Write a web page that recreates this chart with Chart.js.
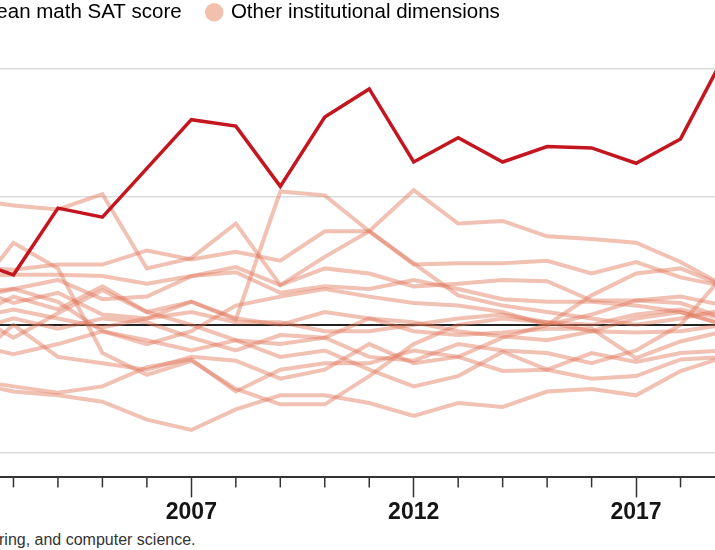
<!DOCTYPE html>
<html>
<head>
<meta charset="utf-8">
<script src="https://cdn.jsdelivr.net/npm/chart.js@4.4.1/dist/chart.umd.min.js"></script>
<style>
    html, body { margin: 0; padding: 0; background: #fff; }
    body { width: 715px; height: 550px; overflow: hidden; position: relative; }
    .chart-wrap { position: absolute; left: -70px; top: -24px; width: 796px; height: 551px; }
    .note { position: absolute; left: -1px; top: 530px; font: 16px 'Liberation Sans', Arial, sans-serif; color: #333; white-space: nowrap; line-height: 20px; }
</style>
</head>
<body>
<div class="chart-wrap"><canvas id="trendChart"></canvas></div>
<div class="note">ring, and computer science.</div>
<script>
// Years and tick labels
const years = [2002, 2003, 2004, 2005, 2006, 2007, 2008, 2009, 2010, 2011, 2012, 2013, 2014, 2015, 2016, 2017, 2018, 2019];
const majorYears = [2007, 2012, 2017];
const yTicks = [-1, 0, 1, 2];
const legendLabels = ['Mean math SAT score', 'Other institutional dimensions'];

// Mean math SAT score (highlighted series)
const satScore = [0.51, 0.39, 0.91, 0.84, 1.22, 1.60, 1.55, 1.08, 1.62, 1.84, 1.27, 1.46, 1.27, 1.39, 1.38, 1.26, 1.45, 2.11];

// Other institutional dimensions
const dim01 = [0.98, 0.93, 0.90, 1.02, 0.44, 0.52, 0.79, 0.31, 0.44, 0.40, 0.30, 0.32, 0.35, 0.34, 0.19, 0.19, 0.17, 0.05];
const dim02 = [0.05, 0.22, 0.12, 0.30, 0.10, 0.18, 0.04, 1.04, 1.01, 0.73, 0.48, 0.23, 0.15, 0.10, 0.05, 0.00, 0.05, 0.12];
const dim03 = [0.25, 0.28, 0.35, 0.20, 0.22, 0.38, 0.45, 0.31, 0.53, 0.73, 1.05, 0.79, 0.81, 0.69, 0.67, 0.64, 0.49, 0.30];
const dim04 = [0.45, 0.43, 0.47, 0.47, 0.58, 0.51, 0.57, 0.50, 0.73, 0.73, 0.47, 0.48, 0.48, 0.50, 0.40, 0.49, 0.37, 0.30];
const dim05 = [0.38, 0.39, 0.39, 0.38, 0.32, 0.38, 0.41, 0.25, 0.30, 0.28, 0.35, 0.28, 0.20, 0.18, 0.18, 0.15, 0.10, 0.00];
const dim06 = [0.20, 0.64, 0.44, -0.22, -0.39, -0.28, -0.50, -0.62, -0.62, -0.40, -0.15, 0.00, 0.05, 0.02, -0.05, 0.05, 0.10, 0.00];
const dim07 = [-0.45, -0.52, -0.55, -0.60, -0.74, -0.82, -0.66, -0.55, -0.55, -0.61, -0.71, -0.61, -0.64, -0.52, -0.50, -0.55, -0.36, -0.25];
const dim08 = [-0.43, -0.48, -0.53, -0.48, -0.33, -0.27, -0.52, -0.35, -0.30, -0.30, -0.20, -0.25, -0.36, -0.35, -0.42, -0.40, -0.27, -0.25];
const dim09 = [0.10, -0.10, 0.09, 0.27, 0.10, 0.00, -0.12, -0.15, -0.10, 0.05, -0.05, -0.08, -0.06, -0.03, -0.03, -0.26, -0.13, -0.05];
const dim10 = [-0.15, -0.23, -0.15, -0.05, -0.12, -0.20, -0.12, -0.25, -0.20, -0.35, -0.48, -0.40, -0.21, -0.35, -0.22, -0.29, -0.22, -0.20];
const dim11 = [0.20, 0.28, 0.18, -0.05, -0.15, -0.05, 0.15, 0.22, 0.28, 0.22, 0.17, 0.15, 0.10, 0.00, 0.08, 0.19, 0.22, 0.15];
const dim12 = [0.05, 0.12, 0.05, -0.02, 0.05, 0.18, 0.05, 0.00, 0.10, 0.05, 0.02, -0.05, -0.09, -0.12, -0.05, -0.06, -0.05, 0.00];
const dim13 = [-0.30, 0.00, -0.25, -0.30, -0.35, -0.25, -0.28, -0.42, -0.35, -0.15, -0.30, -0.25, -0.10, 0.00, 0.23, 0.40, 0.44, 0.30];
const dim14 = [-0.05, 0.05, -0.03, 0.05, 0.02, -0.10, -0.20, -0.08, -0.10, -0.25, -0.28, -0.15, -0.20, -0.22, -0.30, -0.20, 0.00, 0.40];
const dim15 = [0.30, 0.17, 0.25, 0.08, 0.05, 0.10, 0.02, 0.02, -0.05, -0.05, 0.00, 0.05, 0.08, 0.02, 0.00, 0.08, 0.12, 0.05];
const otherDims = [dim01, dim02, dim03, dim04, dim05, dim06, dim07, dim08, dim09, dim10, dim11, dim12, dim13, dim14, dim15];

const satColor = '#c3161f';
const otherColor = 'rgba(224, 118, 88, 0.45)';
const otherSwatch = '#f2c0ad';
const axisColor = '#333';
const fontFamily = "'Liberation Sans', Arial, sans-serif";

// Build datasets
const datasets = [{
    label: legendLabels[0],
    data: satScore,
    borderColor: satColor,
    backgroundColor: satColor,
    borderWidth: 3.5,
    pointRadius: 0,
    tension: 0,
    order: 0
}];
otherDims.forEach((values, i) => {
    datasets.push({
        label: i === 0 ? legendLabels[1] : '',
        data: values,
        borderColor: otherColor,
        backgroundColor: otherSwatch,
        borderWidth: 4,
        pointRadius: 0,
        tension: 0,
        order: 1
    });
});

// Short yearly ticks between the labelled years
const minorTicks = {
    id: 'minorTicks',
    afterDraw(chart) {
        const xScale = chart.scales.x;
        const ctx = chart.ctx;
        const bottom = chart.chartArea.bottom;
        ctx.save();
        ctx.strokeStyle = axisColor;
        ctx.lineWidth = 1.5;
        years.forEach((yr, i) => {
            if (majorYears.includes(yr)) return;
            const px = xScale.getPixelForTick(i);
            ctx.beginPath();
            ctx.moveTo(px, bottom);
            ctx.lineTo(px, bottom + 10);
            ctx.stroke();
        });
        ctx.restore();
    }
};

const ctx = document.getElementById('trendChart').getContext('2d');
new Chart(ctx, {
    type: 'line',
    data: { labels: years, datasets },
    plugins: [minorTicks],
    options: {
        responsive: true,
        maintainAspectRatio: false,
        animation: false,
        layout: { autoPadding: false, padding: 0 },
        plugins: {
            tooltip: { enabled: false },
            legend: {
                position: 'top',
                align: 'start',
                labels: {
                    usePointStyle: true,
                    boxWidth: 13,
                    boxHeight: 13,
                    padding: 26,
                    color: '#222',
                    font: { family: fontFamily, size: 20.5 },
                    generateLabels: () => [
                        { text: legendLabels[0], fillStyle: satColor, strokeStyle: satColor, lineWidth: 0, pointStyle: 'circle', datasetIndex: 0 },
                        { text: legendLabels[1], fillStyle: otherSwatch, strokeStyle: otherSwatch, lineWidth: 0, pointStyle: 'circle', datasetIndex: 1 }
                    ]
                }
            }
        },
        scales: {
            x: {
                type: 'category',
                grid: {
                    drawOnChartArea: false,
                    drawTicks: true,
                    tickLength: 20,
                    tickWidth: 1.5,
                    tickColor: c => majorYears.includes(years[c.index]) ? axisColor : 'rgba(0,0,0,0)'
                },
                border: { display: true, color: axisColor, width: 2 },
                ticks: {
                    autoSkip: false,
                    maxRotation: 0,
                    padding: 1,
                    color: '#151515',
                    font: { family: fontFamily, size: 23, weight: 'bold' },
                    callback: (value, i) => majorYears.includes(years[i]) ? String(years[i]) : ''
                }
            },
            y: {
                type: 'linear',
                min: -1.19,
                max: 2.28,
                afterFit: scale => { scale.width = 39; },
                afterBuildTicks: scale => { scale.ticks = yTicks.map(v => ({ value: v })); },
                ticks: { display: false },
                border: { display: false },
                grid: {
                    drawTicks: false,
                    color: c => c.tick && c.tick.value === 0 ? '#222' : '#dcdcdc',
                    lineWidth: c => c.tick && c.tick.value === 0 ? 2 : 1.5
                }
            }
        }
    }
});
</script>
</body>
</html>
